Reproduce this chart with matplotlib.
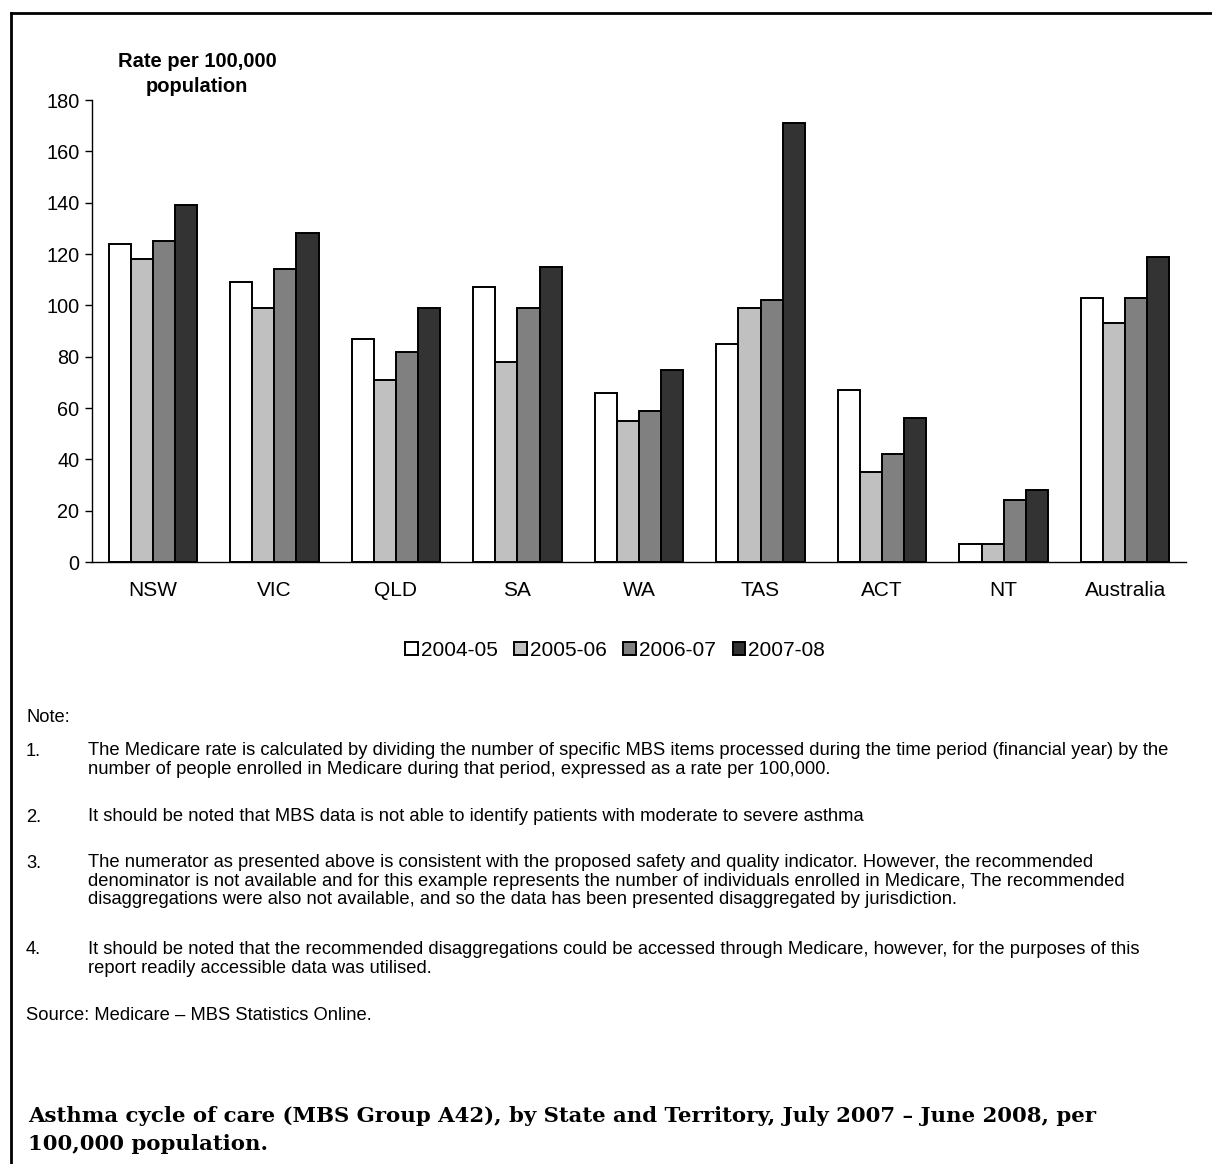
import numpy as np
import matplotlib
matplotlib.use("Agg")
import matplotlib.pyplot as plt
from matplotlib.lines import Line2D
from matplotlib.patches import Patch

W, H, DPI = 1212, 1164, 100

states = ["NSW", "VIC", "QLD", "SA", "WA", "TAS", "ACT", "NT", "Australia"]
years = ["2004-05", "2005-06", "2006-07", "2007-08"]
r0405 = [124, 109, 87, 107, 66, 85, 67, 7, 103]
r0506 = [118, 99, 71, 78, 55, 99, 35, 7, 93]
r0607 = [125, 114, 82, 99, 59, 102, 42, 24, 103]
r0708 = [139, 128, 99, 115, 75, 171, 56, 28, 119]
colors = ["#FFFFFF", "#C0C0C0", "#808080", "#333333"]

notes = [
    ("1.", "The Medicare rate is calculated by dividing the number of specific MBS items processed during the time period (financial year) by the\n"
           "number of people enrolled in Medicare during that period, expressed as a rate per 100,000."),
    ("2.", "It should be noted that MBS data is not able to identify patients with moderate to severe asthma"),
    ("3.", "The numerator as presented above is consistent with the proposed safety and quality indicator. However, the recommended\n"
           "denominator is not available and for this example represents the number of individuals enrolled in Medicare, The recommended\n"
           "disaggregations were also not available, and so the data has been presented disaggregated by jurisdiction."),
    ("4.", "It should be noted that the recommended disaggregations could be accessed through Medicare, however, for the purposes of this\n"
           "report readily accessible data was utilised."),
]
source = "Source: Medicare \u2013 MBS Statistics Online."
title = ("Asthma cycle of care (MBS Group A42), by State and Territory, July 2007 \u2013 June 2008, per\n"
         "100,000 population.")

plt.rcParams["font.family"] = ["Liberation Sans", "DejaVu Sans"]

fig = plt.figure(figsize=(W / DPI, H / DPI), dpi=DPI)


def fx(px):
    return px / W


def fy(py):
    return 1 - py / H


ax = fig.add_axes([fx(92), fy(562), (1186 - 92) / W, (562 - 100) / H])

x = np.arange(len(states))
bw = 0.182
for i, (vals, c) in enumerate(zip([r0405, r0506, r0607, r0708], colors)):
    ax.bar(x + (i - 1.5) * bw, vals, bw, color=c, edgecolor="black", linewidth=1.4)

ax.set_xlim(-0.5, len(states) - 0.5)
ax.set_ylim(0, 180)
ax.set_yticks(range(0, 181, 20))
ax.set_xticks(x)
ax.set_xticklabels(states, fontsize=15)
ax.tick_params(axis="x", length=0, pad=14)
ax.tick_params(axis="y", labelsize=14.3, length=5, width=1, pad=4)
for s in ["top", "right"]:
    ax.spines[s].set_visible(False)
for s in ["left", "bottom"]:
    ax.spines[s].set_linewidth(1)

fig.text(fx(197), fy(74), "Rate per 100,000\npopulation", ha="center", va="center",
         fontsize=14.5, fontweight="bold", linespacing=1.35)

handles = [Patch(facecolor=c, edgecolor="black", linewidth=1.4) for c in colors]
fig.legend(handles, years, loc="center", bbox_to_anchor=(fx(615), fy(650)), ncol=4,
           frameon=False, fontsize=15, handlelength=0.6, handleheight=0.6,
           handletextpad=0.15, columnspacing=0.8, borderpad=0)

fs = 13.2
fig.text(fx(26), fy(717), "Note:", fontsize=fs, va="center")
ys = [751, 817, 863, 950]
for (num, txt), yy in zip(notes, ys):
    fig.text(fx(26), fy(yy), num, fontsize=fs, va="center")
    fig.text(fx(88), fy(yy - 9), txt, fontsize=fs, va="top", linespacing=1.12)
fig.text(fx(26), fy(1016), source, fontsize=fs, va="center")

fig.text(fx(28), fy(1130), title, fontsize=15.3, fontweight="bold", va="center",
         family=["DejaVu Serif"], linespacing=1.55)

# border (top and left only)
fig.add_artist(Line2D([fx(11), 1], [fy(13), fy(13)], color="black", linewidth=2))
fig.add_artist(Line2D([fx(11), fx(11)], [fy(13), 0], color="black", linewidth=2))

fig.savefig("out.png", dpi=DPI)
